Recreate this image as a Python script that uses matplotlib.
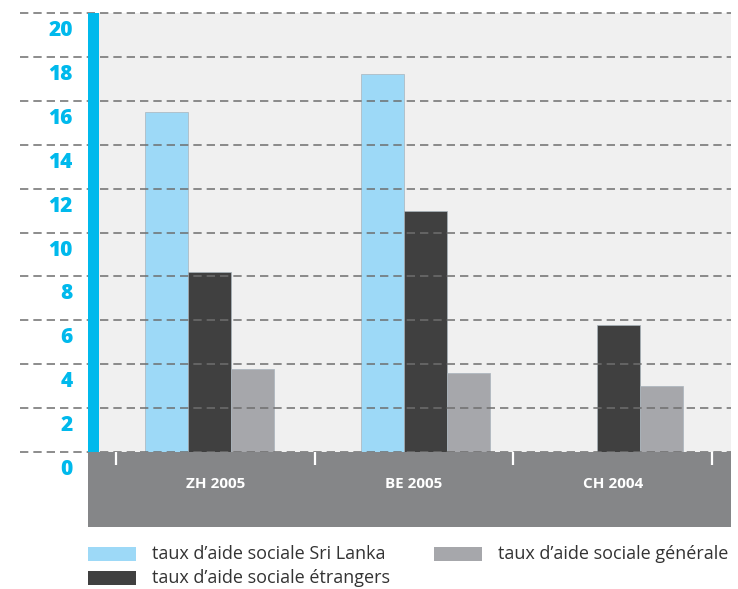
import numpy as np
import matplotlib
matplotlib.use("Agg")
import matplotlib.pyplot as plt
from matplotlib.patches import Rectangle
from matplotlib.transforms import ScaledTranslation

plt.rcParams['font.family'] = ['Open Sans', 'DejaVu Sans']
plt.rcParams['lines.scale_dashes'] = False

# data
categories = ["ZH 2005", "BE 2005", "CH 2004"]
sri_lanka = [15.5, 17.2, np.nan]
etrangers = [8.2, 11.0, 5.8]
generale = [3.8, 3.6, 3.0]
y_ticks = [0, 2, 4, 6, 8, 10, 12, 14, 16, 18, 20]
legend_labels = ["taux d\u2019aide sociale Sri Lanka",
                 "taux d\u2019aide sociale \u00e9trangers",
                 "taux d\u2019aide sociale g\u00e9n\u00e9rale"]

C_SL = "#9dd9f7"
C_ET = "#404040"
C_GE = "#a6a7ab"
C_CYAN = "#00b9ec"
C_BAND = "#858688"
C_BG = "#f0f0f0"

W, H = 738, 589
fig = plt.figure(figsize=(W / 100, H / 100), dpi=100)
fig.patch.set_facecolor("white")

# axes spans plot area + grey category band (pixels 88..731 x 13..527)
ax = fig.add_axes([88 / W, (H - 527) / H, (731 - 88) / W, (527 - 13) / H])
ax.set_facecolor(C_BG)
band = 75 / 22.0
ax.set_ylim(-band, 20)
step = 198.7
ax.set_xlim((88 - 215.4) / step, (731 - 215.4) / step)
for s in ax.spines.values():
    s.set_visible(False)

bw = 43 / step
group_shift = [-0.028, 0.058, 0.03]
x = np.arange(len(categories)) + np.array(group_shift)
kw = dict(width=bw, edgecolor="#a9b4bc", linewidth=0.5, zorder=2)
ax.bar(x - bw, sri_lanka, color=C_SL, **kw)
ax.bar(x, etrangers, color=C_ET, **kw)
ax.bar(x + bw, generale, color=C_GE, **kw)

# grey band and cyan axis bar
ax.axhspan(-band, 0, color=C_BAND, zorder=4, lw=0)
x0 = ax.get_xlim()[0]
ax.axvspan(x0, x0 + 11 / step, ymin=band / (20 + band), ymax=1, color=C_CYAN, zorder=5, lw=0)

# dashed grid lines, extending left of the axis
ax.hlines(y_ticks, -68 / 643, 1, transform=ax.get_yaxis_transform(), clip_on=False,
          colors="#6e6e6e", linewidth=1.1, linestyles=(0, (6, 3.6)), zorder=3)

# white separators in the band
ax.vlines(np.arange(len(categories) + 1) - 0.5, -13 / 22, 0, colors="white", linewidth=1.6, zorder=6)
for i, c in enumerate(categories):
    ax.text(i, -32 / 22, c, ha="center", va="center", color="white",
            fontsize=11, fontweight="bold", zorder=7)

ax.set_xticks([])
ax.set_yticks(y_ticks)
ax.set_yticklabels([str(v) for v in y_ticks], color=C_CYAN, fontsize=15, fontweight="heavy")
ax.tick_params(axis="y", length=0, pad=11)
off = ScaledTranslation(0, -15 / 100, fig.dpi_scale_trans)
for lab in ax.get_yticklabels():
    lab.set_transform(lab.get_transform() + off)

# legend drawn by hand
def legend_item(px, py, color, text):
    fig.patches.append(Rectangle((px / W, 1 - (py + 7) / H), 48 / W, 14 / H,
                                 transform=fig.transFigure, color=color, lw=0))
    fig.text((px + 64) / W, 1 - py / H, text, ha="left", va="center",
             fontsize=13, color="#333333")

legend_item(88, 554, C_SL, legend_labels[0])
legend_item(88, 578, C_ET, legend_labels[1])
legend_item(434, 554, C_GE, legend_labels[2])

fig.savefig("out.png", dpi=100)
